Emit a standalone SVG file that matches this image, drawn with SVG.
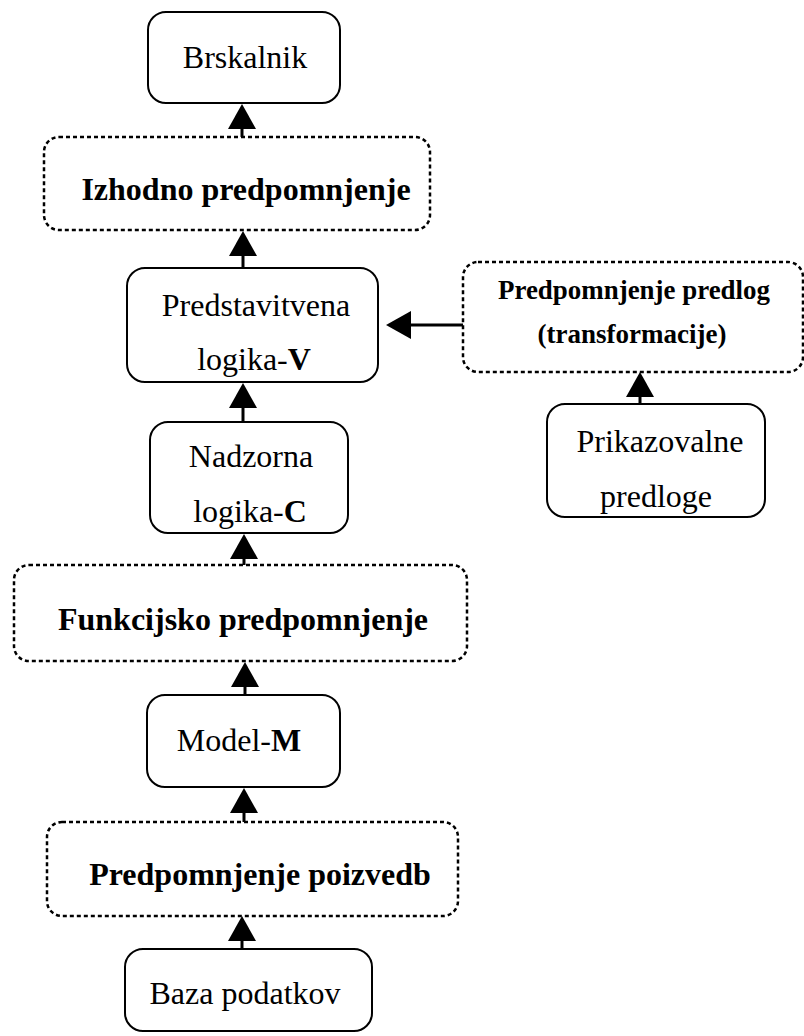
<svg xmlns="http://www.w3.org/2000/svg" width="804" height="1036" viewBox="0 0 804 1036">
<defs>
<style>
.box{fill:#fff;stroke:#000;stroke-width:2}
.dot{fill:#fff;stroke:#000;stroke-width:2.5;stroke-dasharray:4 3}
text{font-family:'Liberation Serif',Tinos,'Times New Roman',serif;font-size:32px;fill:#000;text-anchor:middle}
.b{font-weight:bold}
.s{font-size:27px}
.c{stroke:#000;stroke-width:3;fill:none;marker-end:url(#ah)}
</style>
<marker id="ah" viewBox="0 0 25 28" refX="15" refY="14" markerWidth="25" markerHeight="28" markerUnits="userSpaceOnUse" orient="auto">
<path d="M0,0 L25,14 L0,28 Z" fill="#000"/>
</marker>
</defs>
<rect width="804" height="1036" fill="#fff"/>
<g id="connectors">
<line class="c" x1="242" y1="137" x2="242" y2="114"/>
<line class="c" x1="243" y1="268" x2="243" y2="241"/>
<line class="c" x1="243" y1="422" x2="243" y2="393"/>
<line class="c" x1="244" y1="565" x2="244" y2="544"/>
<line class="c" x1="245" y1="695" x2="245" y2="672"/>
<line class="c" x1="244" y1="822" x2="244" y2="798"/>
<line class="c" x1="242" y1="949" x2="242" y2="926"/>
<line class="c" x1="640" y1="404" x2="640" y2="382"/>
<line class="c" x1="463" y1="325" x2="396" y2="325"/>
</g>
<g id="brskalnik" font-family="Liberation Serif">
<rect class="box" x="148" y="12" width="192" height="91" rx="18"/>
<text x="245" y="68">Brskalnik</text>
</g>
<g id="izhodno">
<rect class="dot" x="44" y="137" width="386" height="93" rx="15"/>
<text class="b" x="246" y="200">Izhodno predpomnjenje</text>
</g>
<g id="predstavitvena">
<rect class="box" x="127" y="268" width="251" height="114" rx="18"/>
<text x="256" y="316">Predstavitvena</text>
<text x="254" y="370">logika-<tspan class="b">V</tspan></text>
</g>
<g id="predlog-cache">
<rect class="dot" x="463" y="262" width="340" height="110" rx="15"/>
<text class="b s" x="634" y="299" textLength="272" lengthAdjust="spacingAndGlyphs">Predpomnjenje predlog</text>
<text class="b s" x="632" y="343">(transformacije)</text>
</g>
<g id="prikazovalne">
<rect class="box" x="547" y="404" width="218" height="113" rx="18"/>
<text x="660" y="452">Prikazovalne</text>
<text x="656" y="507">predloge</text>
</g>
<g id="nadzorna">
<rect class="box" x="150" y="422" width="198" height="111" rx="18"/>
<text x="251" y="467">Nadzorna</text>
<text x="250" y="522">logika-<tspan class="b">C</tspan></text>
</g>
<g id="funkcijsko">
<rect class="dot" x="14" y="565" width="453" height="96" rx="15"/>
<text class="b" x="243" y="630">Funkcijsko predpomnjenje</text>
</g>
<g id="model">
<rect class="box" x="147" y="695" width="193" height="92" rx="18"/>
<text x="239" y="751">Model-<tspan class="b">M</tspan></text>
</g>
<g id="poizvedb">
<rect class="dot" x="47" y="822" width="411" height="94" rx="15"/>
<text class="b" x="260" y="885">Predpomnjenje poizvedb</text>
</g>
<g id="baza">
<rect class="box" x="125" y="949" width="247" height="82" rx="18"/>
<text x="245" y="1004">Baza podatkov</text>
</g>
</svg>
